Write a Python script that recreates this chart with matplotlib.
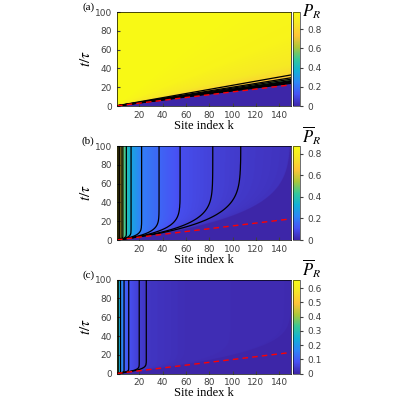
import numpy as np
import matplotlib
matplotlib.use("Agg")
import matplotlib.pyplot as plt
from matplotlib.colors import LinearSegmentedColormap
from matplotlib.ticker import FuncFormatter

plt.rcParams["mathtext.fontset"] = "stix"

parula = LinearSegmentedColormap.from_list("parula", [
    (0.2422, 0.1504, 0.6603), (0.2810, 0.3228, 0.9579), (0.1786, 0.5289, 0.9682),
    (0.0689, 0.6948, 0.8394), (0.2161, 0.7843, 0.5923), (0.6720, 0.7793, 0.2227),
    (0.9970, 0.7659, 0.2199), (0.9657, 0.9008, 0.1565), (0.9769, 0.9839, 0.0805)])

# Panel (a): P_R as a function of ratio t/k
a_ratio = [0.0, 0.15, 0.16, 0.17, 0.18, 0.19, 0.20, 0.22, 0.30, 0.50, 1.0, 100.0]
a_value = [0.0, 0.0, 0.1, 0.3, 0.5, 0.6, 0.7, 0.8, 0.88, 0.94, 0.97, 0.97]
a_levels = [0.1, 0.2, 0.3, 0.4, 0.5, 0.6, 0.7, 0.8]
a_max = 0.98

# Panel (b): saturated profile over k (t large)
b_k = [1, 2, 3, 4.5, 6, 9, 13, 22, 37, 55, 83, 107, 150]
b_value = [0.86, 0.8, 0.7, 0.6, 0.5, 0.4, 0.3, 0.2, 0.15, 0.1, 0.07, 0.05, 0.03]
b_levels = [0.05, 0.07, 0.1, 0.15, 0.2, 0.3, 0.4, 0.5, 0.6, 0.7, 0.8]
b_max = 0.87

# Panel (c)
c_k = [1, 2, 4, 7, 11, 20, 26, 60, 150]
c_value = [0.65, 0.3, 0.2, 0.12, 0.08, 0.045, 0.03, 0.015, 0.01]
c_levels = [0.03, 0.045, 0.08, 0.12, 0.2, 0.3]
c_max = 0.66

front_slope = 0.15

k = np.linspace(1, 150, 600)
t = np.linspace(0, 100, 500)
K, T = np.meshgrid(k, t)
R = T / K

Za = np.interp(R, a_ratio, a_value)

def field(kk, vv, c):
    s = 1 - np.exp(-np.maximum(R - front_slope, 0) / c)
    s = np.maximum(s, 1e-6)
    z = np.interp(K / s, kk, vv, right=0.0)
    z[R < front_slope] = 0.0
    return z

Zb = field(b_k, b_value, 0.1)
Zc = field(c_k, c_value, 0.05)

fmt = FuncFormatter(lambda v, p: "0" if abs(v) < 1e-9 else f"{v:g}")

fig = plt.figure(figsize=(4, 4), dpi=100)
serif = "Liberation Serif"
H = 0.235
panels = [
    ("(a)", Za, a_levels, a_max, 0.735, r"$P_R$", [0, 0.2, 0.4, 0.6, 0.8], -0.022),
    ("(b)", Zb, b_levels, b_max, 0.400, r"$\overline{P}_R$", [0, 0.2, 0.4, 0.6, 0.8], -0.002),
    ("(c)", Zc, c_levels, c_max, 0.066, r"$\overline{P}_R$", [0, 0.1, 0.2, 0.3, 0.4, 0.5, 0.6], -0.002),
]
for lab, Z, lev, vmax, y0, cbl, cbt, dy in panels:
    ax = fig.add_axes([0.2925, y0, 0.435, H])
    im = ax.imshow(Z, origin="lower", extent=[1, 150, 0, 100], aspect="auto",
                   cmap=parula, vmin=0, vmax=vmax)
    ax.contour(K, T, Z, levels=lev, colors="k", linewidths=0.9)
    ax.plot(k, front_slope * k, color="red", ls=(0, (4, 3)), lw=1.0)
    ax.set_xlim(1, 150); ax.set_ylim(0, 100)
    ax.set_xticks([20, 40, 60, 80, 100, 120, 140])
    ax.set_yticks([0, 20, 40, 60, 80, 100])
    ax.tick_params(labelsize=6.5, colors="#404040", length=2, direction="in")
    for sp in ax.spines.values():
        sp.set_linewidth(0.5)
    ax.set_xlabel("Site index k", family=serif, fontsize=9, labelpad=0)
    ax.set_ylabel(r"$t/\tau$", fontsize=11, labelpad=1)
    ax.text(-0.13, 1.0, lab, transform=ax.transAxes, family=serif, fontsize=8,
            ha="right", va="bottom")
    cax = fig.add_axes([0.7325, y0, 0.0175, H])
    cb = fig.colorbar(im, cax=cax, ticks=cbt, format=fmt)
    cb.ax.tick_params(labelsize=6.5, colors="#404040", length=2)
    cb.outline.set_linewidth(0.4)
    fig.text(0.755, y0 + H + dy, cbl, fontsize=12, ha="left", va="bottom")

fig.savefig("out.png", dpi=100)
